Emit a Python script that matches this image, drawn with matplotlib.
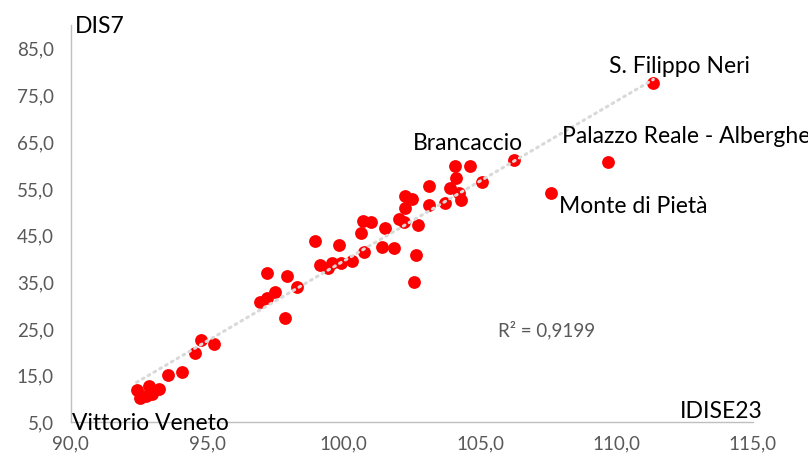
import numpy as np
import matplotlib
matplotlib.use("Agg")
import matplotlib.pyplot as plt
from matplotlib.ticker import FuncFormatter, MultipleLocator

plt.rcParams['font.family'] = ['Lato', 'DejaVu Sans']

# --- data (IDISE23 vs DIS7)
idise23 = [111.35, 109.70, 107.60, 106.25, 104.10, 104.63, 104.13, 103.14, 105.08,
           103.89, 104.22, 104.29, 103.71, 103.13, 102.26, 102.52, 102.26, 102.03,
           102.23, 102.73, 100.73, 101.02, 101.53, 100.65, 98.96, 99.82, 101.42,
           101.86, 100.76, 102.67, 100.30, 99.92, 99.59, 99.15, 99.42, 102.57,
           98.30, 97.20, 97.92, 97.49, 97.21, 96.95, 97.86, 94.79, 95.25, 94.57,
           94.10, 93.57, 92.42, 92.89, 93.24, 93.00, 92.55, 92.77]
dis7 = [77.5, 60.6, 53.9, 61.0, 59.6, 59.6, 57.1, 55.5, 56.3,
        55.0, 53.9, 52.4, 51.7, 51.4, 53.2, 52.6, 50.7, 48.4,
        47.7, 47.1, 48.0, 47.7, 46.4, 45.3, 43.65, 42.8, 42.4,
        42.1, 41.2, 40.65, 39.4, 39.0, 38.9, 38.6, 37.9, 34.8,
        33.8, 36.8, 36.2, 32.7, 31.4, 30.5, 27.2, 22.4, 21.7, 19.6,
        15.7, 15.0, 11.8, 12.6, 11.9, 10.9, 10.1, 10.5]

# labelled points: index -> (name, offset px, ha)
labels = {0: ("S. Filippo Neri", (26, 11), "center"),
          1: ("Palazzo Reale - Albergheria", (-46, 20), "left"),
          2: ("Monte di Pietà", (8, -19), "left"),
          3: ("Brancaccio", (9, 11), "right"),
          52: ("Vittorio Veneto", (-68, -31), "left")}

r2_text = "R² = 0,9199"
xlabel = "IDISE23"
ylabel = "DIS7"

x = np.array(idise23)
y = np.array(dis7)

fig = plt.figure(figsize=(8.08, 4.56), dpi=100)
ax = fig.add_axes([70.5/808, 1-422.5/456, (753-70.5)/808, (422.5-25.5)/456])

ax.scatter(x, y, s=85, color="#FF0000", linewidths=0, zorder=2)

# linear trendline
k, b = np.polyfit(x, y, 1)
xt = np.array([x.min(), x.max()])
ax.plot(xt, k*xt+b, color="#D9D9D9", lw=2.2, linestyle=(0, (0.6, 1.6)),
        dash_capstyle="round", zorder=3)

for i, (name, off, ha) in labels.items():
    ax.annotate(name, (x[i], y[i]), xytext=off, textcoords="offset pixels",
                ha=ha, va="baseline", fontsize=16.5, color="black",
                annotation_clip=False, zorder=4)

ax.set_xlim(90, 115)
ax.set_ylim(5, 90)
ax.xaxis.set_major_locator(MultipleLocator(5))
ax.set_yticks(np.arange(5, 86, 10))
fmt = FuncFormatter(lambda v, p: f"{v:.1f}".replace(".", ","))
ax.xaxis.set_major_formatter(fmt)
ax.yaxis.set_major_formatter(fmt)
ax.tick_params(length=0, labelsize=13.5, labelcolor="#595959")
ax.tick_params(axis="x", pad=9)
ax.tick_params(axis="y", pad=12)

for s in ["top", "right"]:
    ax.spines[s].set_visible(False)
for s in ["left", "bottom"]:
    ax.spines[s].set_color("#BFBFBF")
    ax.spines[s].set_linewidth(1.0)

fig.text(75/808, 1-33/456, ylabel, ha="left", va="baseline", fontsize=16.5)
fig.text(763/808, 1-418/456, xlabel, ha="right", va="baseline", fontsize=16.5)
fig.text(498/808, 1-336/456, r2_text, ha="left", va="baseline", fontsize=13.5,
         color="#595959")

fig.savefig("out.png", dpi=100)
